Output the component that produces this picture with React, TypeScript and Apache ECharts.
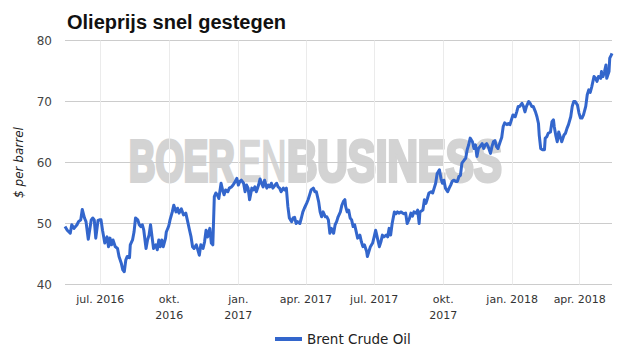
import React, { useEffect, useRef } from "react";
import * as echarts from "echarts";

const titleText = "Olieprijs snel gestegen";
const seriesName = "Brent Crude Oil";
const yAxisName = "$ per barrel";
const yTicks = [40, 50, 60, 70, 80];

const tickDates = ["2016-07-01", "2016-10-01", "2017-01-01", "2017-04-01", "2017-07-01", "2017-10-01", "2018-01-01", "2018-04-01"];
const tickLabels = ["jul. 2016", "okt.\n2016", "jan.\n2017", "apr. 2017", "jul. 2017", "okt.\n2017", "jan. 2018", "apr. 2018"];

const dates = [
  "2016-05-15","2016-05-18","2016-05-22","2016-05-24","2016-05-27","2016-05-31","2016-06-02","2016-06-05","2016-06-07","2016-06-10",
  "2016-06-12","2016-06-15","2016-06-19","2016-06-21","2016-06-23","2016-06-25","2016-06-28","2016-06-30","2016-07-02","2016-07-04",
  "2016-07-07","2016-07-10","2016-07-12","2016-07-14","2016-07-16","2016-07-18","2016-07-21","2016-07-24","2016-07-26","2016-07-29",
  "2016-07-31","2016-08-02","2016-08-04","2016-08-06","2016-08-09","2016-08-10","2016-08-13","2016-08-15","2016-08-17","2016-08-20",
  "2016-08-22","2016-08-24","2016-08-26","2016-08-28","2016-08-31","2016-09-02","2016-09-04","2016-09-06","2016-09-08","2016-09-10",
  "2016-09-13","2016-09-15","2016-09-17","2016-09-19","2016-09-21","2016-09-23","2016-09-26","2016-09-27","2016-09-30","2016-10-01",
  "2016-10-02","2016-10-05","2016-10-07","2016-10-10","2016-10-12","2016-10-14","2016-10-17","2016-10-20","2016-10-23","2016-10-25",
  "2016-10-28","2016-10-30","2016-11-01","2016-11-03","2016-11-06","2016-11-08","2016-11-10","2016-11-12","2016-11-15","2016-11-17",
  "2016-11-19","2016-11-21","2016-11-24","2016-11-26","2016-11-28","2016-11-30","2016-12-02","2016-12-04","2016-12-06","2016-12-09",
  "2016-12-11","2016-12-13","2016-12-15","2016-12-18","2016-12-20","2016-12-23","2016-12-25","2016-12-28","2016-12-30","2017-01-01",
  "2017-01-03","2017-01-05","2017-01-08","2017-01-10","2017-01-12","2017-01-14","2017-01-16","2017-01-19","2017-01-21","2017-01-23",
  "2017-01-25","2017-01-28","2017-01-30","2017-02-01","2017-02-03","2017-02-05","2017-02-08","2017-02-10","2017-02-12","2017-02-14",
  "2017-02-16","2017-02-19","2017-02-21","2017-02-23","2017-02-25","2017-02-27","2017-03-02","2017-03-04","2017-03-06","2017-03-08",
  "2017-03-10","2017-03-13","2017-03-15","2017-03-17","2017-03-19","2017-03-21","2017-03-24","2017-03-26","2017-03-28","2017-03-30",
  "2017-04-02","2017-04-04","2017-04-06","2017-04-08","2017-04-11","2017-04-13","2017-04-15","2017-04-18","2017-04-20","2017-04-22",
  "2017-04-24","2017-04-27","2017-04-29","2017-05-01","2017-05-03","2017-05-05","2017-05-08","2017-05-10","2017-05-12","2017-05-14",
  "2017-05-17","2017-05-19","2017-05-21","2017-05-23","2017-05-24","2017-05-26","2017-05-28","2017-05-30","2017-06-01","2017-06-03",
  "2017-06-05","2017-06-07","2017-06-09","2017-06-12","2017-06-14","2017-06-16","2017-06-18","2017-06-21","2017-06-22","2017-06-24",
  "2017-06-26","2017-06-29","2017-07-01","2017-07-03","2017-07-05","2017-07-08","2017-07-10","2017-07-12","2017-07-14","2017-07-17",
  "2017-07-19","2017-07-21","2017-07-23","2017-07-25","2017-07-28","2017-07-30","2017-08-01","2017-08-03","2017-08-06","2017-08-08",
  "2017-08-10","2017-08-12","2017-08-14","2017-08-17","2017-08-19","2017-08-21","2017-08-23","2017-08-26","2017-08-28","2017-08-30",
  "2017-08-31","2017-09-04","2017-09-06","2017-09-08","2017-09-10","2017-09-12","2017-09-15","2017-09-17","2017-09-19","2017-09-21",
  "2017-09-23","2017-09-26","2017-09-28","2017-09-30","2017-10-02","2017-10-04","2017-10-07","2017-10-09","2017-10-11","2017-10-13",
  "2017-10-15","2017-10-18","2017-10-20","2017-10-22","2017-10-24","2017-10-26","2017-10-29","2017-10-31","2017-11-02","2017-11-04",
  "2017-11-06","2017-11-09","2017-11-11","2017-11-13","2017-11-15","2017-11-17","2017-11-19","2017-11-22","2017-11-24","2017-11-26",
  "2017-11-28","2017-11-30","2017-12-03","2017-12-05","2017-12-07","2017-12-09","2017-12-11","2017-12-13","2017-12-16","2017-12-18",
  "2017-12-20","2017-12-22","2017-12-25","2017-12-27","2017-12-29","2017-12-31","2018-01-02","2018-01-05","2018-01-07","2018-01-09",
  "2018-01-11","2018-01-14","2018-01-16","2018-01-18","2018-01-20","2018-01-23","2018-01-25","2018-01-27","2018-01-29","2018-02-01",
  "2018-02-03","2018-02-05","2018-02-06","2018-02-08","2018-02-10","2018-02-13","2018-02-14","2018-02-16","2018-02-18","2018-02-21",
  "2018-02-23","2018-02-25","2018-02-26","2018-02-28","2018-03-02","2018-03-04","2018-03-06","2018-03-08","2018-03-11","2018-03-13",
  "2018-03-15","2018-03-17","2018-03-20","2018-03-22","2018-03-24","2018-03-26","2018-03-29","2018-03-31","2018-04-02","2018-04-04",
  "2018-04-06","2018-04-09","2018-04-11","2018-04-13","2018-04-15","2018-04-17","2018-04-20","2018-04-22","2018-04-24","2018-04-26",
  "2018-04-29","2018-04-30","2018-05-02","2018-05-04","2018-05-06","2018-05-07","2018-05-10","2018-05-11","2018-05-13","2018-05-14"
];

const prices = [
  49.5,48.9,48.4,49.8,49.2,49.8,50.3,50.6,52.3,50.9,
  50.3,47.4,50.6,50.9,50.6,47.6,50.5,50.6,50.6,48.9,
  46.8,47.8,46.2,47.6,46.5,47.3,46.2,45.9,44.6,43.5,
  42.4,42.1,44.0,44.6,44.4,46.5,47.3,48.6,50.9,50.6,
  49.8,49.5,49.8,48.9,45.9,47.3,48.1,49.8,47.8,45.9,
  46.5,45.7,47.3,46.2,47.3,46.2,47.6,48.6,49.5,50.0,
  50.6,51.9,53.0,51.9,52.5,51.7,52.4,51.4,51.7,50.6,
  48.9,47.8,46.2,45.9,46.5,45.7,44.8,46.5,45.9,47.0,
  48.9,47.8,49.2,46.8,46.5,54.4,55.0,54.7,54.1,56.6,
  55.5,54.7,55.5,55.2,55.8,56.0,56.3,56.9,57.4,56.3,
  56.9,57.1,56.6,55.2,56.3,55.8,53.9,55.8,55.5,56.0,
  55.2,56.3,57.3,56.6,56.0,57.1,55.8,56.3,56.0,56.6,
  55.8,56.3,56.6,56.0,55.8,55.2,55.8,55.5,55.8,52.8,
  50.9,50.3,50.9,51.0,50.0,50.3,50.0,50.9,51.9,52.5,
  53.3,53.9,54.7,55.5,55.8,55.2,55.2,53.6,51.9,51.1,
  51.9,51.1,51.1,50.6,48.4,49.2,48.4,49.8,50.3,51.1,
  51.9,53.0,53.6,53.9,52.8,51.9,52.2,50.9,50.6,49.5,
  49.8,48.7,47.6,48.1,47.0,46.2,46.5,45.4,44.6,45.4,
  46.2,46.8,47.8,48.9,47.8,46.2,47.0,48.1,47.8,48.1,
  47.8,49.2,48.1,50.0,51.9,51.6,51.9,51.7,51.9,51.7,
  51.6,51.7,50.0,50.8,51.7,51.2,51.9,51.7,52.2,50.0,
  51.9,52.2,53.9,53.3,54.1,55.0,55.2,55.0,55.8,56.6,
  58.2,58.8,57.4,56.6,57.1,55.8,55.2,55.8,56.3,56.9,
  57.1,56.9,56.9,57.7,57.9,59.9,60.4,60.7,62.1,62.9,
  64.0,63.4,62.3,62.9,61.0,62.3,62.6,63.1,62.3,62.9,
  63.1,62.6,61.5,62.6,63.4,63.6,62.6,62.3,63.4,64.1,
  65.9,66.5,66.2,66.4,66.2,67.0,67.8,67.5,68.3,69.2,
  69.2,69.7,69.2,68.3,69.2,70.0,69.7,69.2,69.2,68.3,
  67.5,66.4,64.5,62.3,62.1,62.1,64.0,64.2,64.8,65.0,
  66.7,67.0,65.9,64.5,63.4,65.0,64.2,63.4,64.5,64.8,
  65.6,66.2,67.5,69.2,70.0,70.0,69.4,68.1,67.3,67.3,
  67.8,69.2,71.1,71.9,71.5,72.4,74.1,73.8,73.3,74.1,
  73.8,74.9,74.1,74.9,76.0,73.8,74.9,77.1,77.6,77.9
];

function toTs(s: string): number {
  const [y, m, d] = s.split("-").map(Number);
  return Date.UTC(y, m - 1, d);
}

export default function App() {
  const ref = useRef<HTMLDivElement>(null);

  useEffect(() => {
    if (!ref.current) return;
    const chart = echarts.init(ref.current, null, { renderer: "svg" });
    const tickTs = tickDates.map(toTs);
    const seriesData = dates.map((d, i) => [toTs(d), prices[i]]);
    const font = "'DejaVu Sans', sans-serif";
    const wmFont = "'Liberation Sans', Arial, sans-serif";
    const labelFor = (v: number) => {
      let best = 0;
      for (let i = 1; i < tickTs.length; i++) {
        if (Math.abs(tickTs[i] - v) < Math.abs(tickTs[best] - v)) best = i;
      }
      return tickLabels[best];
    };
    const wm = (text: string, x: number, sx: number, weight: string, sw: number, color: string) => ({
      type: "text",
      x,
      y: 161,
      scaleX: sx,
      z: -1,
      silent: true,
      style: {
        text,
        fontFamily: wmFont,
        fontWeight: weight,
        fontSize: 58,
        fill: color,
        stroke: color,
        lineWidth: sw,
        lineJoin: "round",
        align: "left",
        verticalAlign: "middle",
      },
    });

    chart.setOption({
      animation: false,
      backgroundColor: "#ffffff",
      title: {
        text: titleText,
        left: 62,
        top: 7,
        textStyle: { fontFamily: "'Liberation Sans', Arial, sans-serif", fontWeight: "bold", fontSize: 20, color: "#111111" },
      },
      grid: { left: 65, right: 13, top: 40.5, bottom: 70.5, containLabel: false },
      legend: {
        left: 270,
        top: 327,
        icon: "rect",
        itemWidth: 27,
        itemHeight: 4,
        itemGap: 5,
        textStyle: { fontFamily: font, fontSize: 13.5, color: "#222222" },
        data: [seriesName],
      },
      graphic: [
        wm("BOER", 129, 0.63, "bold", 4, "#d3d3d3"),
        wm("EN", 238, 0.6, "normal", 2.5, "#d6d6d6"),
        wm("BUSINESS", 287, 0.725, "bold", 4, "#d3d3d3"),
      ],
      xAxis: {
        type: "value",
        min: toTs(dates[0]),
        max: toTs(dates[dates.length - 1]),
        axisLine: { show: false },
        axisTick: { show: false, customValues: tickTs },
        splitLine: { show: true, customValues: tickTs, lineStyle: { color: "#ebebeb", width: 1 } },
        axisLabel: {
          customValues: tickTs,
          fontFamily: font,
          fontSize: 11,
          color: "#333333",
          margin: 7,
          lineHeight: 16,
          formatter: (v: number) => labelFor(v),
        },
      },
      yAxis: {
        type: "value",
        min: yTicks[0],
        max: yTicks[yTicks.length - 1],
        interval: 10,
        name: yAxisName,
        nameLocation: "middle",
        nameGap: 40,
        nameTextStyle: { fontFamily: font, fontStyle: "italic", fontSize: 12, color: "#222222" },
        axisLine: { show: false },
        axisTick: { show: false },
        axisLabel: { fontFamily: font, fontSize: 12, color: "#444444", margin: 13 },
        splitLine: { lineStyle: { color: "#cccccc", width: 1 } },
      },
      series: [
        {
          name: seriesName,
          type: "line",
          data: seriesData,
          showSymbol: false,
          symbol: "none",
          z: 3,
          lineStyle: { color: "#3366cc", width: 3, join: "round" },
          itemStyle: { color: "#3366cc" },
        },
      ],
    });
    return () => chart.dispose();
  }, []);

  return <div ref={ref} style={{ width: 625, height: 355, position: "absolute", left: 0, top: 0 }} />;
}
